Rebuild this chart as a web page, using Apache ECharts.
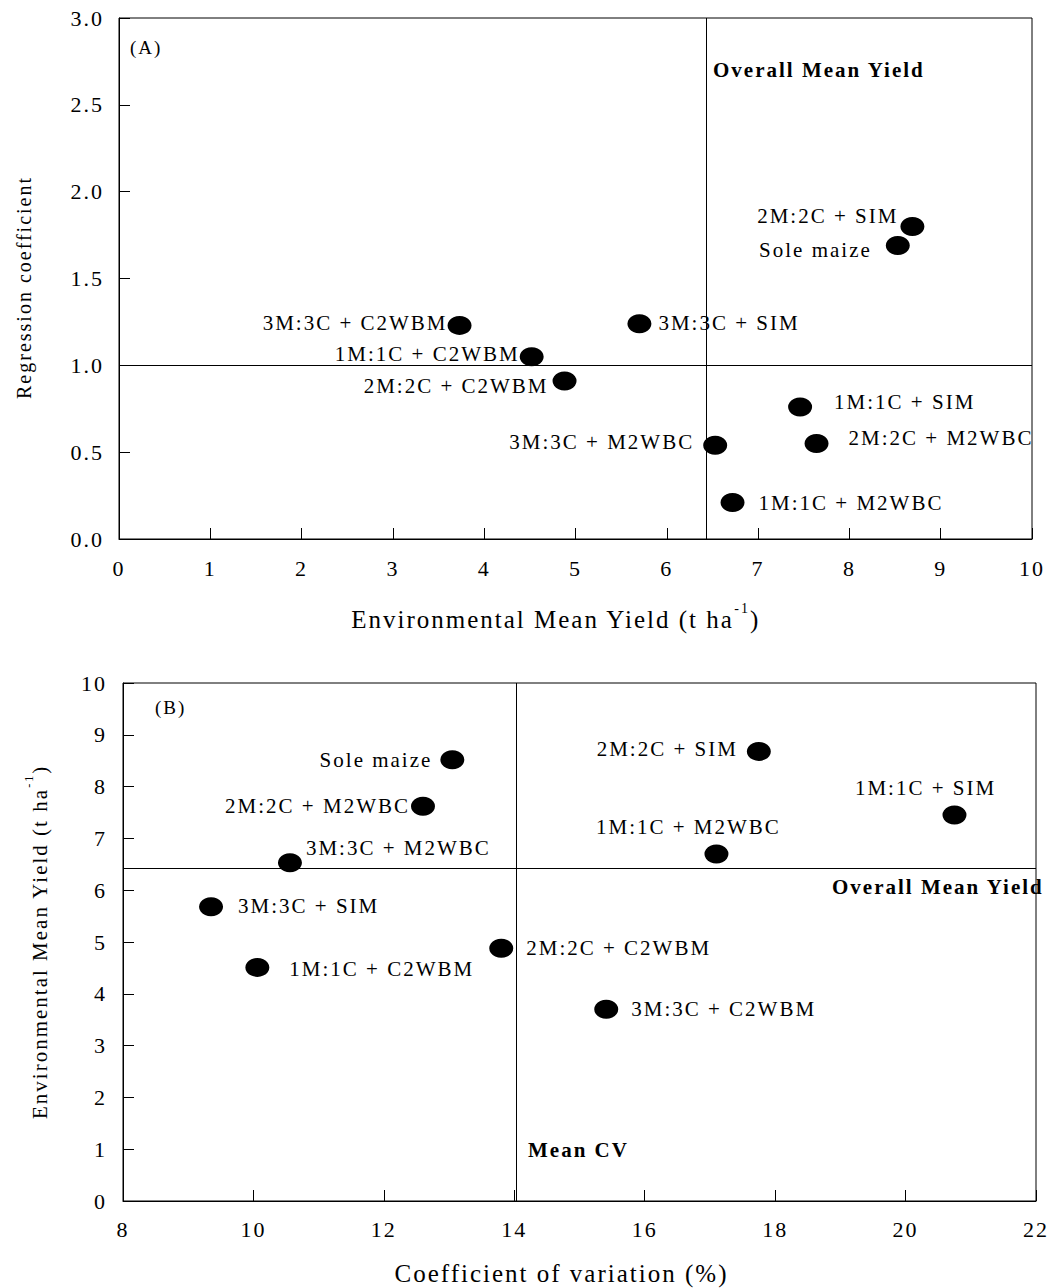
<!DOCTYPE html>
<html>
<head>
<meta charset="utf-8">
<script src="https://cdn.jsdelivr.net/npm/echarts@6/dist/echarts.min.js"></script>
<style>
  html, body { margin: 0; padding: 0; background: #fff; overflow: hidden; }
  #chart { width: 1057px; height: 1288px; }
  #chart text { letter-spacing: 2px; }
</style>
</head>
<body>
<div id="chart"></div>
<script>
// ---------- DATA ----------
// Panel A: environmental mean yield (x) vs regression coefficient (y)
const namesA = ['2M:2C + SIM', 'Sole maize', '3M:3C + C2WBM', '3M:3C + SIM', '1M:1C + C2WBM',
                '2M:2C + C2WBM', '1M:1C + SIM', '3M:3C + M2WBC', '2M:2C + M2WBC', '1M:1C + M2WBC'];
const xA = [8.69, 8.53, 3.73, 5.70, 4.52, 4.88, 7.46, 6.53, 7.64, 6.72];
const yA = [1.80, 1.69, 1.23, 1.24, 1.05, 0.91, 0.76, 0.54, 0.55, 0.21];
const overallMeanYieldA = 6.43;
const refCoefA = 1.0;

// Panel B: coefficient of variation (x) vs environmental mean yield (y)
const namesB = ['Sole maize', '2M:2C + SIM', '2M:2C + M2WBC', '1M:1C + SIM', '1M:1C + M2WBC',
                '3M:3C + M2WBC', '3M:3C + SIM', '1M:1C + C2WBM', '2M:2C + C2WBM', '3M:3C + C2WBM'];
const xB = [13.05, 17.75, 12.60, 20.75, 17.10, 10.56, 9.35, 10.06, 13.80, 15.41];
const yB = [8.52, 8.68, 7.62, 7.45, 6.70, 6.53, 5.68, 4.51, 4.88, 3.70];
const overallMeanYieldB = 6.43;
const meanCV = 14.03;

// ---------- LABEL PLACEMENT (style) ----------
const placeA = [
  ['left', 2, [0, -10]], ['left', 14, [0, 4]], ['left', 0, [0, -2]], ['right', 7, [0, -1]],
  ['left', 0, [0, -3]], ['left', 4, [0, 5]], ['right', 22, [0, -5]], ['left', 9, [0, -3]],
  ['right', 20, [0, -5]], ['right', 14, [0, 0]]
];
const placeB = [
  ['left', 8, [0, 0]], ['left', 9, [0, -2]], ['left', 1, [0, 0]], ['top', 6, [-29, 0]],
  ['top', 6, [-28, 0]], ['right', 4, [0, -15]], ['right', 15, [0, -1]], ['right', 20, [0, 2]],
  ['right', 13, [0, 0]], ['right', 13, [0, 0]]
];

const FONT = 'Liberation Serif, Times New Roman, serif';
const SPACING = 2;

// Measure text including the letter spacing applied by CSS to the SVG text
const measureCtx = document.createElement('canvas').getContext('2d');
echarts.setPlatformAPI({
  measureText: function (text, font) {
    measureCtx.font = font || '12px sans-serif';
    const m = measureCtx.measureText(text);
    const extra = String(text).length * SPACING;
    return {
      width: m.width + extra,
      actualBoundingBoxAscent: m.actualBoundingBoxAscent,
      actualBoundingBoxDescent: m.actualBoundingBoxDescent,
      actualBoundingBoxLeft: m.actualBoundingBoxLeft,
      actualBoundingBoxRight: m.actualBoundingBoxRight + extra,
      fontBoundingBoxAscent: m.fontBoundingBoxAscent,
      fontBoundingBoxDescent: m.fontBoundingBoxDescent
    };
  }
});

function buildData(names, xs, ys, place) {
  return names.map((n, i) => ({
    name: n,
    value: [xs[i], ys[i]],
    label: { position: place[i][0], distance: place[i][1], offset: place[i][2] }
  }));
}

function axisBase(min, max, interval, fmt, margin) {
  return {
    min: min, max: max, interval: interval,
    axisLine: { show: true, onZero: false, lineStyle: { color: '#000', width: 1 } },
    axisTick: { show: true, inside: true, length: 11, lineStyle: { color: '#000', width: 1 } },
    splitLine: { show: false },
    axisLabel: { color: '#000', fontFamily: FONT, fontSize: 22, formatter: fmt, margin: margin },
    nameTextStyle: { color: '#000', fontFamily: FONT, fontSize: 25 }
  };
}

function richName(size, padding) {
  return {
    color: '#000', fontFamily: FONT, fontSize: size, padding: padding,
    rich: {
      n: { fontFamily: FONT, fontSize: size, color: '#000', lineHeight: size + 8, verticalAlign: 'bottom' },
      sup: { fontFamily: FONT, fontSize: Math.round(size * 0.58), color: '#000', lineHeight: Math.round(size * 0.58), verticalAlign: 'top' }
    }
  };
}
const unitName = '{n|Environmental Mean Yield (t ha}{sup|-1}{n|)}';

const markLineStyle = { symbol: 'none', silent: true, animation: false, label: { show: false },
  lineStyle: { color: '#000', width: 1, type: 'solid' } };

const labelStyle = { show: true, formatter: '{b}', color: '#000', fontFamily: FONT, fontSize: 21 };

const option = {
  animation: false,
  backgroundColor: '#fff',
  grid: [
    { left: 119, top: 18, width: 913, height: 521, show: true, borderColor: '#000', borderWidth: 1 },
    { left: 123, top: 683, width: 913, height: 519, show: true, borderColor: '#000', borderWidth: 1 }
  ],
  xAxis: [
    Object.assign(axisBase(0, 10, 1, v => String(v), 17), {
      gridIndex: 0, name: unitName, nameLocation: 'middle', nameGap: 61,
      nameTextStyle: richName(25, [0, 40, 0, 0])
    }),
    Object.assign(axisBase(8, 22, 2, v => String(v), 16), {
      gridIndex: 1, name: 'Coefficient of variation (%)', nameLocation: 'middle', nameGap: 59,
      nameTextStyle: { color: '#000', fontFamily: FONT, fontSize: 25, padding: [0, 36, 0, 0] }
    })
  ],
  yAxis: [
    Object.assign(axisBase(0, 3, 0.5, v => v.toFixed(1), 15), {
      gridIndex: 0, name: 'Regression coefficient', nameLocation: 'middle', nameGap: 84, nameRotate: 90,
      nameTextStyle: { color: '#000', fontFamily: FONT, fontSize: 20, padding: [0, 18, 0, 0] }
    }),
    Object.assign(axisBase(0, 10, 1, v => String(v), 16), {
      gridIndex: 1, name: unitName, nameLocation: 'middle', nameGap: 72, nameRotate: 90,
      nameTextStyle: richName(21, 0)
    })
  ],
  series: [
    {
      type: 'scatter', xAxisIndex: 0, yAxisIndex: 0,
      symbol: 'circle', symbolSize: [24, 19],
      itemStyle: { color: '#000', opacity: 1 },
      label: labelStyle,
      data: buildData(namesA, xA, yA, placeA),
      markLine: Object.assign({ data: [{ xAxis: overallMeanYieldA }, { yAxis: refCoefA }] }, markLineStyle)
    },
    {
      type: 'scatter', xAxisIndex: 1, yAxisIndex: 1,
      symbol: 'circle', symbolSize: [24, 19],
      itemStyle: { color: '#000', opacity: 1 },
      label: labelStyle,
      data: buildData(namesB, xB, yB, placeB),
      markLine: Object.assign({ data: [{ xAxis: meanCV }, { yAxis: overallMeanYieldB }] }, markLineStyle)
    }
  ],
  graphic: [
    { type: 'text', left: 130, top: 37, style: { text: '(A)', font: '19px ' + FONT, fill: '#000' } },
    { type: 'text', left: 713, top: 58, style: { text: 'Overall Mean Yield', font: 'bold 21px ' + FONT, fill: '#000' } },
    { type: 'text', left: 155, top: 697, style: { text: '(B)', font: '19px ' + FONT, fill: '#000' } },
    { type: 'text', left: 832, top: 875, style: { text: 'Overall Mean Yield', font: 'bold 21px ' + FONT, fill: '#000' } },
    { type: 'text', left: 528, top: 1138, style: { text: 'Mean CV', font: 'bold 21px ' + FONT, fill: '#000' } }
  ]
};

const chart = echarts.init(document.getElementById('chart'), null, { renderer: 'svg' });
chart.setOption(option);
</script>
</body>
</html>
